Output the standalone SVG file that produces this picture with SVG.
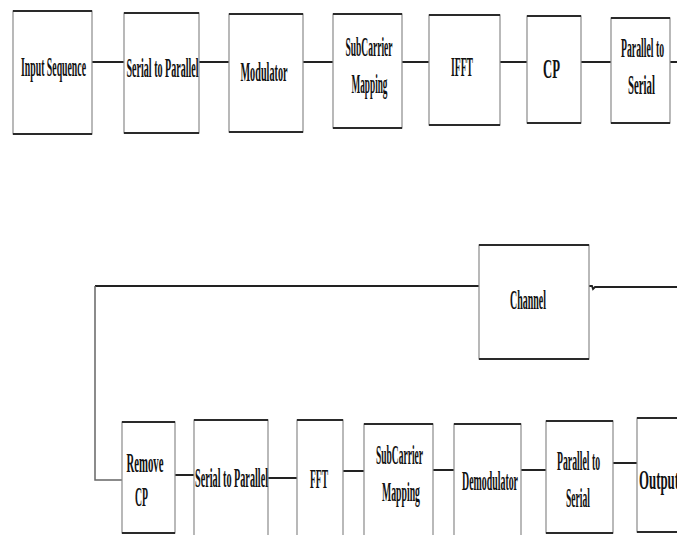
<svg xmlns="http://www.w3.org/2000/svg" width="677" height="535" viewBox="0 0 677 535">
<style>
.side{fill:#fff;stroke:#8a8a8a;stroke-width:1.2}
.tb{stroke:#2a2a2a;stroke-width:2.2;fill:none}
.c{stroke:#222;stroke-width:1.8;fill:none}
text{font-family:"Liberation Serif","Times New Roman",serif;font-weight:bold;font-size:28px;fill:#111;text-anchor:middle}
</style>
<rect width="677" height="535" fill="#fff"/>
<g id="connectors">
<path class="c" d="M92 62H124M199 62H229M303 62H333M402 62H429M500 62H527M581 62H611M670 62H677"/>
<path class="c" d="M95 286H479"/>
<path class="c" d="M589 286L592 286L593 289L595 287H677"/>
<path class="c" d="M95 286V480H122" style="stroke:#666;stroke-width:1.5"/>
<path class="c" d="M175 475H194M268 478H297M343 471H364M433 470H454M521 470H546M613 463H637"/>
</g>
<g id="input-sequence"><rect class="side" x="13" y="11" width="79" height="123"/><path class="tb" d="M13 11H92M13 134H92"/><text x="53.5" y="76" textLength="65" lengthAdjust="spacingAndGlyphs">Input Sequence</text></g>
<g id="serial-to-parallel-tx"><rect class="side" x="124" y="13" width="75" height="120"/><path class="tb" d="M124 13H199M124 133H199"/><text x="162.5" y="77" textLength="72" lengthAdjust="spacingAndGlyphs">Serial to Parallel</text></g>
<g id="modulator"><rect class="side" x="229" y="14" width="74" height="118"/><path class="tb" d="M229 14H303M229 132H303"/><text x="264" y="81" textLength="47" lengthAdjust="spacingAndGlyphs">Modulator</text></g>
<g id="subcarrier-mapping-tx"><rect class="side" x="333" y="14" width="69" height="114"/><path class="tb" d="M333 14H402M333 128H402"/><text x="369" y="56" textLength="47" lengthAdjust="spacingAndGlyphs">SubCarrier</text><text x="369.5" y="93" textLength="36" lengthAdjust="spacingAndGlyphs">Mapping</text></g>
<g id="ifft"><rect class="side" x="429" y="15" width="71" height="110"/><path class="tb" d="M429 15H500M429 125H500"/><text x="462" y="76" textLength="22" lengthAdjust="spacingAndGlyphs">IFFT</text></g>
<g id="cp"><rect class="side" x="527" y="16" width="54" height="107"/><path class="tb" d="M527 16H581M527 123H581"/><text x="551.5" y="78" textLength="17" lengthAdjust="spacingAndGlyphs">CP</text></g>
<g id="parallel-to-serial-tx"><rect class="side" x="611" y="18" width="59" height="105"/><path class="tb" d="M611 18H670M611 123H670"/><text x="642.5" y="57" textLength="43" lengthAdjust="spacingAndGlyphs">Parallel to</text><text x="641.5" y="94" textLength="27" lengthAdjust="spacingAndGlyphs">Serial</text></g>
<g id="channel"><rect class="side" x="479" y="245" width="110" height="114"/><path class="tb" d="M479 245H589M479 359H589"/><text x="528" y="309" textLength="36" lengthAdjust="spacingAndGlyphs">Channel</text></g>
<g id="remove-cp"><rect class="side" x="122" y="422" width="53" height="111"/><path class="tb" d="M122 422H175M122 533H175"/><text x="145" y="472" textLength="37" lengthAdjust="spacingAndGlyphs">Remove</text><text x="141.5" y="506" textLength="13" lengthAdjust="spacingAndGlyphs">CP</text></g>
<g id="serial-to-parallel-rx"><rect class="side" x="194" y="420" width="74" height="120"/><path class="tb" d="M194 420H268"/><text x="231.5" y="487" textLength="73" lengthAdjust="spacingAndGlyphs">Serial to Parallel</text></g>
<g id="fft"><rect class="side" x="297" y="420" width="46" height="120"/><path class="tb" d="M297 420H343"/><text x="319" y="488" textLength="18" lengthAdjust="spacingAndGlyphs">FFT</text></g>
<g id="subcarrier-mapping-rx"><rect class="side" x="364" y="424" width="69" height="116"/><path class="tb" d="M364 424H433"/><text x="399.5" y="464" textLength="47" lengthAdjust="spacingAndGlyphs">SubCarrier</text><text x="401" y="501" textLength="38" lengthAdjust="spacingAndGlyphs">Mapping</text></g>
<g id="demodulator"><rect class="side" x="454" y="424" width="67" height="116"/><path class="tb" d="M454 424H521"/><text x="490" y="490" textLength="56" lengthAdjust="spacingAndGlyphs">Demodulator</text></g>
<g id="parallel-to-serial-rx"><rect class="side" x="546" y="421" width="67" height="112"/><path class="tb" d="M546 421H613M546 533H613"/><text x="578.5" y="470" textLength="43" lengthAdjust="spacingAndGlyphs">Parallel to</text><text x="578" y="507" textLength="24" lengthAdjust="spacingAndGlyphs">Serial</text></g>
<g id="output"><rect class="side" x="637" y="418" width="50" height="114"/><path class="tb" d="M637 418H687M637 532H687"/><text x="639" y="489" textLength="40" lengthAdjust="spacingAndGlyphs" style="text-anchor:start">Output</text></g>
</svg>
